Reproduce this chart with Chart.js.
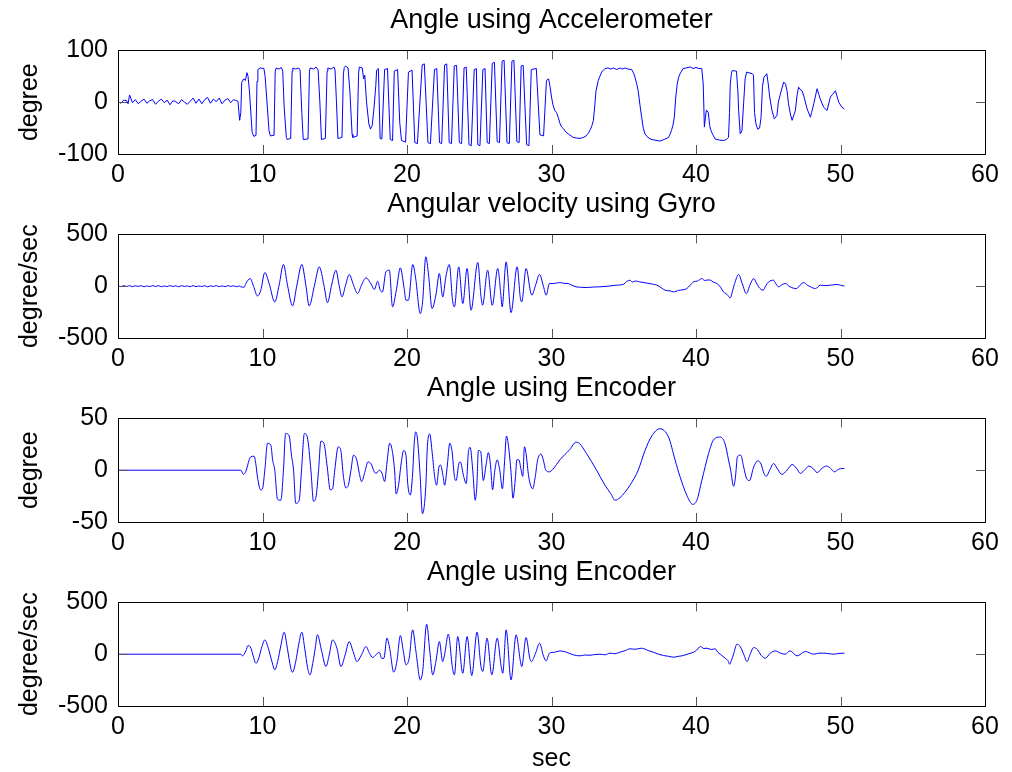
<!DOCTYPE html>
<html>
<head>
<meta charset="utf-8">
<script src="https://cdn.jsdelivr.net/npm/chart.js@4.4.1/dist/chart.umd.min.js"></script>
<style>
  body { margin: 0; background: #fff; }
  canvas { position: absolute; left: 0; }
</style>
</head>
<body>
<canvas id="acc" width="1012" height="184" style="top:0px;width:1012px;height:184px"></canvas>
<canvas id="gyro" width="1012" height="184" style="top:184px;width:1012px;height:184px"></canvas>
<canvas id="enc" width="1012" height="184" style="top:368px;width:1012px;height:184px"></canvas>
<canvas id="encRate" width="1012" height="220" style="top:552px;width:1012px;height:220px"></canvas>
<script>
// titles / labels
const titles = ['Angle using Accelerometer', 'Angular velocity using Gyro', 'Angle using Encoder', 'Angle using Encoder'];
const yLabels = ['degree', 'degree/sec', 'degree', 'degree/sec'];
const yLimits = [100, 500, 50, 500];
const xLabel = 'sec';
const xTicks = [0, 10, 20, 30, 40, 50, 60];

// [time (s), value]
const accelPts = [
  [0,1],[0.2,-2],[0.4,4],[0.6,3],[0.7,-3],[0.8,14],[1.0,-1],[1.2,5],[1.4,-3],[1.6,2],[1.8,6],[2.0,-2],[2.2,3],[2.4,5],[2.6,-4],
  [2.8,2],[3.0,6],[3.2,-1],[3.4,4],[3.6,-5],[3.8,3],[4.0,1],[4.2,-3],[4.4,5],[4.6,0],[4.8,-4],[5.0,2],[5.2,8],[5.4,-2],[5.6,6],
  [5.8,-3],[6.0,5],[6.2,9],[6.4,-2],[6.6,6],[6.8,1],[7.0,8],[7.2,-3],[7.4,4],[7.6,7],[7.8,-1],[8.0,5],[8.2,3],
  [8.3,2],[8.42,-35],[8.5,-20],[8.56,38],[8.7,45],[8.82,42],[8.92,57],[9.0,50],[9.1,20],[9.28,-58],[9.4,-66],[9.55,-64],
  [9.62,40],[9.68,63],[9.85,66],[10.1,65],[10.18,50],[10.26,20],[10.45,-55],[10.55,-65],[10.8,-64],[10.88,60],[10.95,66],
  [11.15,64],[11.3,67],[11.4,60],[11.5,-10],[11.65,-68],[11.7,-72],[11.95,-70],[12.05,60],[12.1,66],[12.3,64],[12.5,66],
  [12.6,62],[12.72,-20],[12.82,-72],[13.15,-71],[13.25,60],[13.3,66],[13.55,64],[13.7,68],[13.85,62],[13.97,0],[14.08,-72],
  [14.35,-70],[14.47,60],[14.52,66],[14.75,64],[14.95,68],[15.02,62],[15.12,0],[15.22,-70],[15.5,-68],[15.6,55],[15.66,67],
  [15.75,70],[15.92,66],[16.05,20],[16.2,-62],[16.25,-68],[16.55,-65],[16.65,55],[16.7,68],[16.9,66],[17.0,45],
  [17.08,52],[17.2,0],[17.36,-42],[17.47,-52],[17.59,-45],[17.72,-10],[17.84,32],[17.9,62],[18.02,65],[18.14,-70],[18.26,-71],
  [18.45,63],[18.65,65],[18.84,-72],[19.0,-74],[19.12,60],[19.35,63],[19.5,-40],[19.62,-74],[19.9,-77],[20.1,58],[20.35,62],
  [20.54,-78],[20.72,-80],[21.05,72],[21.2,74],[21.45,-78],[21.62,-80],[21.9,63],[22.06,65],[22.25,-78],[22.4,-80],[22.6,72],
  [22.75,74],[22.92,-78],[23.08,-80],[23.27,70],[23.43,71],[23.62,-78],[23.78,-80],[23.95,66],[24.1,68],[24.29,-82],[24.45,-84],
  [24.65,63],[24.8,65],[24.9,-82],[25.05,-84],[25.25,63],[25.4,65],[25.55,-78],[25.7,-80],[25.9,75],[26.05,77],[26.24,-76],
  [26.4,-78],[26.58,79],[26.72,81],[26.92,-78],[27.08,-80],[27.26,79],[27.4,81],[27.6,-76],[27.76,-78],[27.9,70],[28.04,71],
  [28.28,-82],[28.44,-84],[28.6,63],[28.95,65],[29.2,-63],[29.45,-65],
  [29.65,42],[29.8,45],[29.9,30],[30.0,10],[30.1,-5],[30.23,-16],[30.35,-20],[30.46,-29],[30.6,-42],[30.7,-48],[30.85,-52],
  [31.0,-58],[31.2,-62],[31.5,-68],[31.7,-69],[31.97,-70],[32.2,-68],[32.4,-65],[32.55,-60],[32.7,-52],[32.8,-45],[32.9,-35],
  [33.0,-5],[33.08,22],[33.24,42],[33.35,50],[33.47,58],[33.6,62],[33.7,65],[33.9,66],[34.1,64],[34.3,66],[34.5,63],[34.74,66],
  [34.9,64],[35.1,66],[35.3,64],[35.55,63],[35.7,55],[35.78,48],[35.9,35],[36.0,22],[36.12,-5],[36.24,-29],[36.35,-50],
  [36.47,-61],[36.6,-66],[36.82,-71],[37.1,-73],[37.3,-74],[37.5,-75],[37.8,-72],[38.1,-68],[38.2,-62],[38.3,-55],[38.4,-45],
  [38.5,-29],[38.6,10],[38.7,35],[38.8,48],[38.9,55],[39.0,60],[39.1,65],[39.3,66],[39.6,68],[39.8,65],[40.0,67],[40.2,65],
  [40.4,65],[40.5,35],[40.58,-48],[40.65,-30],[40.72,-15],[40.85,-20],[40.95,-45],[41.0,-52],[41.15,-62],[41.33,-71],[41.6,-73],
  [41.9,-74],[42.1,-72],[42.25,-68],[42.32,-20],[42.37,35],[42.45,55],[42.5,61],[42.8,60],[42.9,20],[42.95,-16],[43.06,-61],
  [43.18,-55],[43.3,0],[43.4,45],[43.5,58],[43.9,55],[43.98,52],[44.05,-20],[44.15,-42],[44.27,-52],[44.4,-50],[44.5,-30],
  [44.6,30],[44.7,48],[44.9,55],[45.0,35],[45.1,10],[45.26,-16],[45.42,-32],[45.6,-26],[45.7,0],[45.84,16],[46.07,39],[46.2,35],
  [46.3,22],[46.4,-3],[46.55,-25],[46.65,-35],[46.88,-16],[47.0,15],[47.1,29],[47.2,25],[47.34,22],[47.46,12],[47.69,-13],
  [47.92,-29],[48.0,-20],[48.15,-3],[48.38,26],[48.5,15],[48.6,6],[48.84,-10],[49.07,-16],[49.3,10],[49.45,15],[49.65,22],
  [49.88,0],[50.1,-10],[50.27,-13]
];

const gyroPts = [
  [0,3],[0.2,-4],[0.4,5],[0.6,-3],[0.8,6],[1.0,-5],[1.2,4],[1.4,-2],[1.6,5],[1.8,-6],[2.0,3],[2.2,-4],[2.4,6],[2.6,-3],[2.8,5],
  [3.0,-5],[3.2,2],[3.4,-4],[3.6,6],[3.8,-3],[4.0,4],[4.2,-6],[4.4,5],[4.6,-2],[4.8,3],[5.0,-5],[5.2,6],[5.4,-4],[5.6,2],[5.8,-3],
  [6.0,5],[6.2,-6],[6.4,4],[6.6,-3],[6.8,6],[7.0,-4],[7.2,3],[7.4,-5],[7.6,5],[7.8,-2],[8.0,4],[8.2,-5],[8.4,2],
  [8.5,-6],[8.73,-10],[8.85,26],[9.15,74],[9.38,0],[9.65,-94],[9.88,-40],[10.16,132],[10.46,25],[10.85,-152],[11.15,10],
  [11.45,210],[11.73,10],[12.08,-190],[12.38,10],[12.72,210],[13.0,10],[13.23,-190],[13.6,10],[13.93,187],[14.25,10],
  [14.5,-158],[14.78,10],[15.08,155],[15.3,10],[15.5,-103],[15.75,10],[16.0,113],[16.3,10],[16.58,-71],[16.85,10],[17.16,81],
  [17.5,25],[17.74,-32],[17.97,48],[18.15,-40],[18.3,-55],[18.54,139],[18.78,155],[19.0,-200],[19.25,-50],[19.54,177],
  [19.8,-20],[19.93,-135],[20.1,-135],[20.4,210],[20.6,75],[20.92,-265],[21.08,-150],[21.3,284],[21.5,100],[21.73,-216],
  [22.0,-85],[22.24,123],[22.47,-103],[22.7,100],[22.93,210],[23.15,-135],[23.28,-200],[23.58,187],[23.86,-168],[24.16,171],
  [24.43,-232],[24.9,229],[25.12,-100],[25.23,-184],[25.58,155],[25.9,-184],[26.28,171],[26.5,-90],[26.58,-200],[26.86,235],
  [27.2,-255],[27.62,187],[27.85,-120],[27.94,-152],[28.24,171],[28.55,-55],[28.64,-87],[28.9,10],[29.17,113],[29.45,-5],
  [29.63,-87],[29.86,26],[30.1,26],[30.35,30],[30.6,35],[30.85,28],[31.15,26],[31.4,10],[31.7,-6],[32.0,-10],[32.4,-13],
  [32.9,-8],[33.35,-6],[33.9,0],[34.5,10],[35.0,20],[35.2,45],[35.43,58],[35.6,40],[35.8,50],[36.1,42],[36.6,30],[37.0,20],
  [37.3,10],[37.6,-15],[37.86,-39],[38.2,-45],[38.44,-55],[38.8,-40],[39.1,-35],[39.36,-23],[39.6,10],[39.83,42],[40.1,50],
  [40.4,74],[40.6,55],[40.8,60],[41.0,58],[41.2,40],[41.45,26],[41.7,-10],[41.9,-55],[42.15,-80],[42.37,-113],[42.5,-60],
  [42.67,25],[42.95,113],[43.2,25],[43.48,-71],[43.76,20],[44.0,74],[44.15,40],[44.33,-6],[44.64,-39],[44.85,10],[45.03,42],
  [45.37,58],[45.5,30],[45.72,-6],[45.95,15],[46.18,26],[46.5,-6],[46.95,-23],[47.2,10],[47.46,35],[47.7,10],[47.92,-6],
  [48.27,-23],[48.6,10],[48.96,6],[49.3,10],[49.77,16],[50.0,10],[50.27,0]
];

const encPts = [
  [0,0],[8.5,0],[8.68,-4],[8.85,-1],[9.08,10],[9.2,13],[9.42,13.5],[9.55,5],[9.65,-6.5],[9.88,-19],[10.0,-18],[10.16,0],
  [10.35,26],[10.58,24],[10.7,10],[10.85,0],[11.04,-28],[11.27,-29],[11.45,0],[11.6,35.5],[11.85,33],[12.0,15],[12.15,0],
  [12.3,-32],[12.54,-29],[12.7,0],[12.9,35.5],[13.1,32],[13.35,0],[13.53,-30],[13.7,-26],[13.88,0],[14.04,28],[14.25,26],
  [14.48,3],[14.69,-19],[14.85,-18],[15.0,0],[15.24,22.5],[15.42,19],[15.6,-6],[15.77,-17],[15.95,-14],[16.12,0],[16.3,14.5],
  [16.52,10],[16.7,-3],[16.86,-11],[17.08,-2],[17.3,8],[17.52,6],[17.75,-2],[17.86,-3],[18.1,0],[18.27,-3],[18.45,-11],
  [18.62,8],[18.8,26],[18.95,21],[19.14,0],[19.25,-23],[19.41,-15],[19.59,6],[19.77,19],[19.93,14],[20.05,-13],[20.23,-24],
  [20.39,-3],[20.5,26],[20.6,37],[20.71,32],[20.9,-3],[21.07,-42],[21.3,-16],[21.41,23],[21.57,35],[21.75,16],[21.91,-6],
  [22.05,-14.5],[22.21,3],[22.32,5],[22.5,-6],[22.6,-14.5],[22.78,3],[22.96,26],[23.12,18],[23.28,-6],[23.4,-10],[23.58,6],
  [23.69,8],[23.92,-6],[24.1,-13],[24.26,19],[24.37,22],[24.55,0],[24.72,-29],[24.83,-16],[24.94,19],[25.1,18],[25.28,-10],
  [25.47,5],[25.63,17],[25.79,3],[25.92,-19],[26.08,0],[26.24,10],[26.42,0],[26.6,-18],[26.76,10],[26.88,33],[27.06,19],
  [27.22,-6],[27.33,-27],[27.51,-6],[27.6,10],[27.74,10],[27.9,0],[28.01,-6],[28.13,22.6],[28.24,16],[28.42,-6],[28.7,-18],
  [28.88,-6],[29.04,10],[29.27,15.5],[29.43,10],[29.61,0],[29.84,-1.6],[30.1,1],[30.58,10],[31.27,20],[31.69,27],[31.92,26],
  [32.43,16],[33.12,0],[33.7,-14.5],[34.1,-22.6],[34.4,-29],[34.74,-26.5],[35.43,-14.5],[36.0,0],[36.47,19],[36.94,33],
  [37.5,40],[38.1,32],[38.55,10],[38.9,-6.5],[39.36,-24],[39.77,-33],[40.06,-29],[40.4,-10],[40.87,16],[41.2,29],[41.68,32],
  [42.0,26],[42.25,10],[42.4,0],[42.6,-15.5],[42.72,-8],[42.87,13],[43.1,14.5],[43.3,3],[43.5,-8],[43.7,-10],[43.99,3],
  [44.27,9],[44.5,6],[44.7,-3],[44.86,-6],[45.1,0],[45.37,6.5],[45.6,2],[45.95,-4],[46.3,0],[46.65,5.5],[46.95,2],[47.22,-3],
  [47.57,1],[47.8,4],[48.15,1],[48.38,-2.3],[48.73,2],[49.03,4],[49.3,2],[49.58,-1.6],[49.88,1],[50.1,1.6],[50.27,1.6]
];

const encRatePts = [
  [0,0],[8.5,0],[8.6,-16],[8.85,32],[9.0,84],[9.2,58],[9.38,-30],[9.54,-87],[9.7,-55],[9.93,58],[10.16,138],[10.4,58],
  [10.65,-70],[10.85,-151],[11.05,-70],[11.28,90],[11.5,213],[11.72,58],[11.95,-130],[12.08,-174],[12.3,-70],[12.5,90],
  [12.72,213],[12.92,58],[13.12,-130],[13.28,-200],[13.5,-70],[13.65,58],[13.8,187],[14.1,25],[14.39,-119],[14.62,-6],
  [14.85,138],[15.15,58],[15.43,-119],[15.72,-6],[16.0,122],[16.27,25],[16.54,-71],[16.85,-6],[17.16,74],[17.4,10],
  [17.62,-32],[17.85,-6],[18.08,19],[18.25,-40],[18.4,-40],[18.61,155],[18.8,58],[19.08,-174],[19.3,-70],[19.54,180],
  [19.75,25],[19.93,-103],[20.15,-40],[20.39,235],[20.62,25],[20.92,-248],[21.08,-170],[21.36,290],[21.58,25],[21.78,-200],
  [22.0,-70],[22.24,122],[22.47,-71],[22.6,-6],[22.86,193],[23.15,-135],[23.28,-200],[23.51,170],[23.86,-184],[24.16,170],
  [24.48,-206],[24.85,213],[25.12,-120],[25.24,-167],[25.54,155],[25.87,-200],[26.24,155],[26.52,-120],[26.63,-184],
  [26.86,235],[27.2,-248],[27.55,187],[27.85,-70],[27.94,-119],[28.24,161],[28.5,-40],[28.6,-71],[28.9,10],[29.17,106],
  [29.45,-20],[29.63,-64],[29.86,10],[30.2,19],[30.58,32],[31.04,19],[31.5,-6],[31.97,-16],[32.3,-8],[32.66,-10],[33.0,-3],
  [33.35,0],[33.7,-6],[34.05,10],[34.4,5],[34.74,19],[35.1,35],[35.43,52],[35.8,48],[36.24,58],[36.7,35],[37.05,19],[37.4,0],
  [37.75,-13],[38.1,-20],[38.44,-29],[38.8,-20],[39.13,-13],[39.5,5],[39.83,19],[40.05,40],[40.3,74],[40.55,55],[40.75,58],
  [41.05,45],[41.33,52],[41.5,20],[41.68,0],[42.02,-39],[42.2,-60],[42.33,-97],[42.45,-60],[42.6,0],[42.83,97],[43.06,74],
  [43.3,0],[43.53,-71],[43.75,0],[43.99,64],[44.27,42],[44.5,-10],[44.8,-39],[45.14,10],[45.5,32],[45.84,10],[46.18,0],
  [46.5,32],[47.0,-16],[47.57,26],[48.15,0],[48.5,10],[48.84,10],[49.2,5],[49.54,0],[49.9,8],[50.27,10]
];

const fontFamily = "'Liberation Sans', Arial, Helvetica, sans-serif";

// matlab-like box with ticks pointing inwards
const boxTicks = {
  id: 'boxTicks',
  afterDatasetsDraw(chart) {
    const { ctx, chartArea: a, scales: { x, y } } = chart;
    ctx.save();
    ctx.lineWidth = 1;
    ctx.strokeStyle = '#555';
    ctx.beginPath();
    x.ticks.forEach(t => {
      const px = Math.round(x.getPixelForValue(t.value)) + 0.5;
      ctx.moveTo(px, a.bottom); ctx.lineTo(px, a.bottom - 9);
      ctx.moveTo(px, a.top); ctx.lineTo(px, a.top + 9);
    });
    y.ticks.forEach(t => {
      const py = Math.round(y.getPixelForValue(t.value)) + 0.5;
      ctx.moveTo(a.left, py); ctx.lineTo(a.left + 9, py);
      ctx.moveTo(a.right, py); ctx.lineTo(a.right - 9, py);
    });
    ctx.stroke();
    ctx.strokeStyle = '#000';
    ctx.strokeRect(Math.round(a.left) + 0.5, Math.round(a.top) + 0.5,
      Math.round(a.right - a.left), Math.round(a.bottom - a.top));
    ctx.restore();
  }
};

function plot(id, i, pts, showX, smooth) {
  const lim = yLimits[i];
  new Chart(document.getElementById(id), {
    type: 'line',
    data: {
      datasets: [{
        data: pts.map(p => ({ x: p[0], y: p[1] })),
        borderColor: '#0000ff',
        borderWidth: 1,
        pointRadius: 0,
        tension: smooth ? 0.4 : 0,
        cubicInterpolationMode: smooth ? 'monotone' : 'default'
      }]
    },
    options: {
      responsive: false,
      animation: false,
      devicePixelRatio: 1,
      layout: { padding: { left: 0, right: 27, top: 0, bottom: 0 } },
      plugins: {
        legend: { display: false },
        tooltip: { enabled: false },
        title: {
          display: true,
          fullSize: false,
          text: titles[i],
          color: '#000',
          font: { family: fontFamily, size: 27, weight: 'normal' },
          padding: { top: 4, bottom: 14 }
        }
      },
      scales: {
        x: {
          type: 'linear', min: 0, max: 60,
          grid: { display: false, drawTicks: false },
          border: { display: false },
          afterBuildTicks: s => { s.ticks = xTicks.map(v => ({ value: v })); },
          ticks: { color: '#000', font: { family: fontFamily, size: 25 }, padding: 6, maxRotation: 0, autoSkip: false },
          title: {
            display: showX, text: xLabel, color: '#000',
            font: { family: fontFamily, size: 25, lineHeight: 1 },
            padding: { top: 0, bottom: 0 }
          },
          afterFit: s => { s.height = showX ? 66 : 30; }
        },
        y: {
          min: -lim, max: lim,
          grid: { display: false, drawTicks: false },
          border: { display: false },
          afterBuildTicks: s => { s.ticks = [-lim, 0, lim].map(v => ({ value: v })); },
          ticks: { color: '#000', font: { family: fontFamily, size: 25 }, padding: 10 },
          title: {
            display: true, text: yLabels[i], color: '#000',
            font: { family: fontFamily, size: 25 },
            padding: { top: 15, bottom: 0 }
          },
          afterFit: s => { s.width = 118; }
        }
      }
    },
    plugins: [boxTicks]
  });
}

plot('acc', 0, accelPts, false, false);
plot('gyro', 1, gyroPts, false, true);
plot('enc', 2, encPts, false, true);
plot('encRate', 3, encRatePts, true, true);
</script>
</body>
</html>
